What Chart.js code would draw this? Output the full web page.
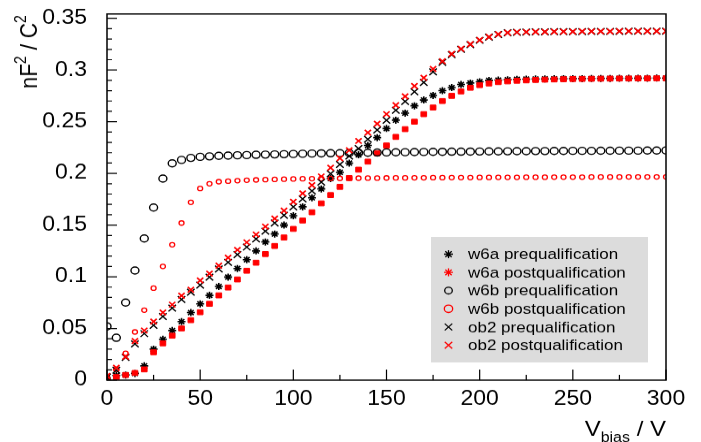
<!DOCTYPE html>
<html>
<head>
<meta charset="utf-8">
<script src="https://cdn.jsdelivr.net/npm/chart.js@4.4.1/dist/chart.umd.min.js"></script>
<style>
  html, body { margin: 0; padding: 0; background: #fff; overflow: hidden; }
  /* the reference is a 700x500 canvas squeezed to 442px high */
  #wrap { width: 701px; height: 500px; transform: scale(1, 0.884); transform-origin: 0 0; }
</style>
</head>
<body>
<div id="wrap"><canvas id="cv" width="701" height="500"></canvas></div>
<script>
const voltage = [0, 5, 10, 15, 20, 25, 30, 35, 40, 45, 50, 55, 60, 65, 70, 75, 80, 85, 90, 95,
  100, 105, 110, 115, 120, 125, 130, 135, 140, 145, 150, 155, 160, 165, 170, 175, 180, 185, 190, 195,
  200, 205, 210, 215, 220, 225, 230, 235, 240, 245, 250, 255, 260, 265, 270, 275, 280, 285, 290, 295, 300];

const w6aPre = [0.002, 0.0045, 0.005, 0.0065, 0.0138, 0.030, 0.0395, 0.048, 0.0566, 0.0654,
  0.0738, 0.082, 0.0906, 0.0997, 0.108, 0.1165, 0.125, 0.1337, 0.1414, 0.150,
  0.159, 0.1677, 0.1764, 0.185, 0.195, 0.201, 0.210, 0.218, 0.227, 0.2346,
  0.2434, 0.2515, 0.2583, 0.2654, 0.271, 0.2754, 0.280, 0.283, 0.286, 0.2874,
  0.2886, 0.290, 0.2903, 0.2906, 0.2910, 0.2912, 0.2913, 0.2914, 0.2915, 0.2916,
  0.2917, 0.2917, 0.2918, 0.2919, 0.2919, 0.2920, 0.2920, 0.2921, 0.2921, 0.2922,
  0.2922];

const w6aPost = [0.0007, 0.003, 0.005, 0.007, 0.0104, 0.027, 0.0356, 0.043, 0.050, 0.058,
  0.0657, 0.0738, 0.082, 0.0896, 0.0974, 0.1058, 0.1136, 0.122, 0.1298, 0.138,
  0.1463, 0.1544, 0.1624, 0.171, 0.179, 0.187, 0.1955, 0.2036, 0.2114, 0.2194,
  0.227, 0.2353, 0.2428, 0.250, 0.2573, 0.2637, 0.270, 0.275, 0.2793, 0.2828,
  0.2854, 0.287, 0.2883, 0.289, 0.2896, 0.2900, 0.2904, 0.2907, 0.2909, 0.2911,
  0.2913, 0.2914, 0.2915, 0.2916, 0.2917, 0.2918, 0.2918, 0.2919, 0.2919, 0.2920,
  0.2920];

const w6bPre = [0.052, 0.041, 0.075, 0.106, 0.137, 0.167, 0.195, 0.2097, 0.213, 0.215,
  0.216, 0.2165, 0.217, 0.2172, 0.2175, 0.2177, 0.218, 0.2182, 0.2184, 0.2186,
  0.2188, 0.219, 0.2192, 0.2194, 0.2195, 0.2196, 0.2198, 0.2200, 0.2200, 0.2202,
  0.2203, 0.2204, 0.2205, 0.2206, 0.2207, 0.2208, 0.2209, 0.2210, 0.2210, 0.2211,
  0.2212, 0.2213, 0.2213, 0.2214, 0.2215, 0.2215, 0.2216, 0.2216, 0.2217, 0.2217,
  0.2218, 0.2218, 0.2218, 0.2219, 0.2219, 0.2220, 0.2220, 0.2220, 0.2221, 0.2221,
  0.2222];

const w6bPost = [0.002, 0.0104, 0.026, 0.0466, 0.0677, 0.089, 0.110, 0.131, 0.152, 0.172,
  0.1854, 0.190, 0.192, 0.1925, 0.193, 0.1934, 0.1937, 0.194, 0.1942, 0.1944,
  0.1946, 0.1948, 0.1949, 0.1950, 0.1951, 0.1952, 0.1953, 0.1954, 0.1955, 0.1955,
  0.1956, 0.1957, 0.1957, 0.1958, 0.1958, 0.1959, 0.1959, 0.1960, 0.1960, 0.1960,
  0.1961, 0.1961, 0.1962, 0.1962, 0.1962, 0.1963, 0.1963, 0.1963, 0.1964, 0.1964,
  0.1964, 0.1964, 0.1965, 0.1965, 0.1965, 0.1965, 0.1966, 0.1966, 0.1966, 0.1966,
  0.1966];

const ob2Pre = [0.003, 0.0097, 0.022, 0.035, 0.045, 0.053, 0.0615, 0.0696, 0.078, 0.085,
  0.092, 0.0997, 0.1075, 0.114, 0.1214, 0.1288, 0.1366, 0.144, 0.152, 0.1595,
  0.1677, 0.1754, 0.183, 0.1915, 0.1997, 0.2087, 0.2168, 0.224, 0.233, 0.242,
  0.2515, 0.261, 0.2696, 0.279, 0.288, 0.2983, 0.3075, 0.315, 0.320, 0.3246,
  0.3287, 0.3317, 0.3343, 0.3360, 0.3365, 0.3368, 0.3369, 0.3370, 0.3371, 0.3371,
  0.3372, 0.3372, 0.3373, 0.3373, 0.3374, 0.3374, 0.3375, 0.3375, 0.3375, 0.3376,
  0.3376];

const ob2Post = [0.004, 0.012, 0.0226, 0.0379, 0.048, 0.0566, 0.0654, 0.073, 0.0816, 0.0874,
  0.0964, 0.103, 0.1107, 0.1184, 0.126, 0.1333, 0.1408, 0.1485, 0.1563, 0.164,
  0.1725, 0.1806, 0.1886, 0.197, 0.2055, 0.2146, 0.2223, 0.2314, 0.2395, 0.248,
  0.2573, 0.266, 0.2745, 0.2845, 0.2925, 0.301, 0.3085, 0.3155, 0.3205, 0.325,
  0.329, 0.332, 0.3345, 0.336, 0.3366, 0.3368, 0.3369, 0.3370, 0.3371, 0.3372,
  0.3372, 0.3373, 0.3373, 0.3374, 0.3374, 0.3375, 0.3375, 0.3375, 0.3376, 0.3376,
  0.3376];

const seriesNames = ['w6a prequalification', 'w6a postqualification', 'w6b prequalification',
  'w6b postqualification', 'ob2 prequalification', 'ob2 postqualification'];
const seriesValues = [w6aPre, w6aPost, w6bPre, w6bPost, ob2Pre, ob2Post];

const FONT = '"Liberation Sans", Arial, Helvetica, sans-serif';
const RED = '#ff0000';

// marker look in the plot, and in the legend box
const markers = [
  { color: '#000', style: 'star', radius: 4, width: 1.6, fill: false, legendStyle: 'star', legendRadius: 4.5 },
  { color: RED, style: 'rect', radius: 4, width: 1, fill: true, legendStyle: 'star', legendRadius: 4.5 },
  { color: '#000', style: 'circle', radius: 4, width: 1.4, fill: false, legendStyle: 'circle', legendRadius: 3.8 },
  { color: RED, style: 'circle', radius: 2.5, width: 1.3, fill: false, legendStyle: 'circle', legendRadius: 4.2 },
  { color: '#000', style: 'crossRot', radius: 5.3, width: 1.4, fill: false, legendStyle: 'crossRot', legendRadius: 5.3 },
  { color: RED, style: 'crossRot', radius: 4.4, width: 1.7, fill: false, legendStyle: 'crossRot', legendRadius: 5.3 }
];

const toPoints = arr => arr.map((v, i) => ({ x: voltage[i], y: v }));

const datasets = seriesValues.map((vals, i) => ({
  label: seriesNames[i],
  data: toPoints(vals),
  showLine: false,
  clip: 0,
  order: seriesValues.length - i,
  pointStyle: markers[i].style,
  pointRadius: markers[i].radius,
  pointBorderWidth: markers[i].width,
  pointBorderColor: markers[i].color,
  pointBackgroundColor: markers[i].fill ? markers[i].color : 'rgba(0,0,0,0)',
  pointHoverRadius: markers[i].radius
}));

const drawParts = (ctx, parts, startX, baseY) => {
  let x = startX;
  parts.forEach(p => {
    ctx.font = p.size + 'px ' + FONT;
    ctx.fillText(p.text, x, baseY + p.dy);
    x += ctx.measureText(p.text).width;
  });
};
const partsWidth = (ctx, parts) => parts.reduce((w, p) => {
  ctx.font = p.size + 'px ' + FONT;
  return w + ctx.measureText(p.text).width;
}, 0);

const rootDecor = {
  id: 'rootDecor',
  afterDraw(chart) {
    const { ctx, chartArea: a, scales: { x, y } } = chart;
    ctx.save();
    ctx.strokeStyle = '#000';
    ctx.fillStyle = '#000';
    ctx.lineWidth = 1.5;
    ctx.strokeRect(a.left, a.top, a.right - a.left, a.bottom - a.top);

    // inward ticks like ROOT
    ctx.lineWidth = 1.2;
    ctx.beginPath();
    for (let i = 0; i <= 35; i++) {
      const py = y.getPixelForValue(i / 100);
      ctx.moveTo(a.left, py);
      ctx.lineTo(a.left + (i % 5 === 0 ? 10 : 5), py);
    }
    for (let v = 0; v <= 300; v += 25) {
      const px = x.getPixelForValue(v);
      ctx.moveTo(px, a.bottom);
      ctx.lineTo(px, a.bottom - (v % 50 === 0 ? 12 : 6));
    }
    ctx.stroke();

    // axis titles
    ctx.textBaseline = 'alphabetic';
    ctx.textAlign = 'left';
    const xTitle = [
      { text: 'V', size: 24, dy: 0 },
      { text: 'bias', size: 16, dy: 7 },
      { text: ' / V', size: 24, dy: 0 }
    ];
    drawParts(ctx, xTitle, a.right - partsWidth(ctx, xTitle), 493);

    const yTitle = [
      { text: 'nF', size: 24, dy: 0 },
      { text: '2', size: 16, dy: -11 },
      { text: ' / C', size: 24, dy: 0 },
      { text: '2', size: 16, dy: -11 }
    ];
    ctx.save();
    ctx.translate(37, 17);
    ctx.rotate(-Math.PI / 2);
    drawParts(ctx, yTitle, -partsWidth(ctx, yTitle), 0);
    ctx.restore();

    // legend box
    const box = { left: 431, top: 268, right: 648, bottom: 410 };
    ctx.fillStyle = '#dcdcdc';
    ctx.fillRect(box.left, box.top, box.right - box.left, box.bottom - box.top);
    ctx.font = '17px ' + FONT;
    ctx.textBaseline = 'middle';
    seriesNames.forEach((name, i) => {
      const rowY = 287.5 + i * 20.6;
      const m = markers[i];
      ctx.strokeStyle = m.color;
      ctx.fillStyle = 'rgba(0,0,0,0)';
      ctx.lineWidth = 1.3;
      Chart.helpers.drawPoint(ctx, { pointStyle: m.legendStyle, radius: m.legendRadius, borderWidth: 1.3, rotation: 0 }, 448.5, rowY);
      ctx.fillStyle = '#000';
      ctx.fillText(name, 468, rowY + 1);
    });
    ctx.restore();
  }
};

const yLabel = v => String(+v.toFixed(2));

new Chart(document.getElementById('cv'), {
  type: 'scatter',
  data: { datasets },
  options: {
    responsive: false,
    animation: false,
    devicePixelRatio: 1,
    events: [],
    layout: { padding: { top: 15.8, right: 35, bottom: 0, left: 0 } },
    plugins: { legend: { display: false }, tooltip: { enabled: false } },
    scales: {
      x: {
        type: 'linear', min: 0, max: 300,
        grid: { display: false, drawTicks: false },
        border: { display: false },
        ticks: { stepSize: 50, color: '#000', font: { family: FONT, size: 23 }, padding: 8, maxRotation: 0 },
        afterFit: s => { s.height = 70; s.paddingLeft = 0; s.paddingRight = 0; }
      },
      y: {
        type: 'linear', min: 0, max: 0.3542,
        grid: { display: false, drawTicks: false },
        border: { display: false },
        ticks: { stepSize: 0.05, includeBounds: false, color: '#000', font: { family: FONT, size: 23 }, padding: 20, callback: yLabel },
        afterFit: s => { s.width = 107; s.paddingTop = 0; s.paddingBottom = 0; }
      }
    }
  },
  plugins: [rootDecor]
});
</script>
</body>
</html>
